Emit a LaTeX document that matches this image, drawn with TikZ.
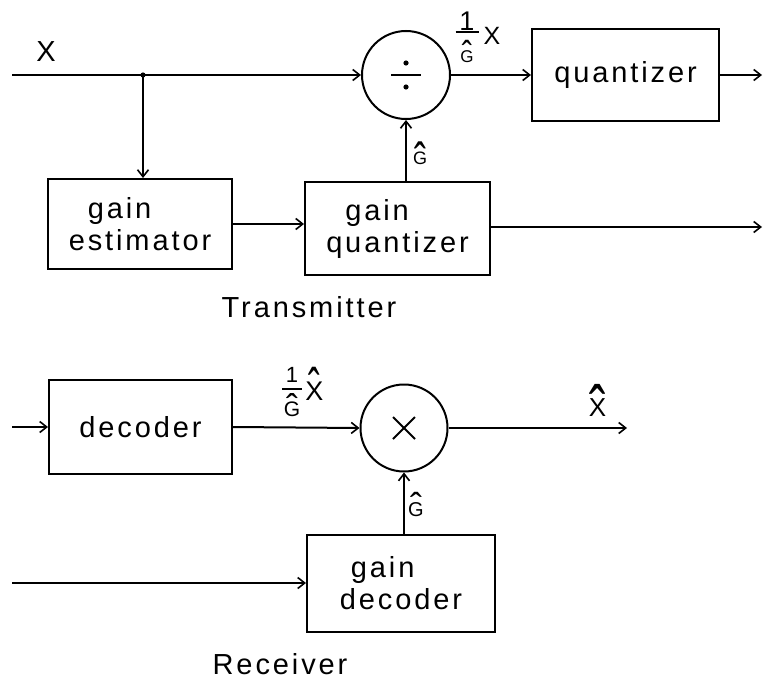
\documentclass[tikz,border=0pt]{standalone}
\usepackage{fontspec}
\usepackage{graphicx}
\setmainfont{Liberation Sans}[LetterSpace=10]
\usetikzlibrary{arrows.meta}
\newsavebox{\hatbx}
% #1 letter, #2 raise, #3 xscale, #4 yscale
\newcommand{\hatit}[4]{\sbox{\hatbx}{#1}\rlap{\hbox to \wd\hatbx{\hss\raisebox{#2}[0pt][0pt]{\scalebox{#3}[#4]{ˆ}}\hss}}\usebox{\hatbx}}
% #1 num size, #2 den size, #3 bar width, #4 kern above, #5 kern below, #6 hat raise, #7 hat xs, #8 hat ys
\newcommand{\fracG}[8]{$\vcenter{\hbox to #3{\hss\fontsize{#1}{#1}\selectfont 1\hss}\kern#4\hrule height 1.8pt\kern#5\hbox to #3{\hss\fontsize{#2}{#2}\selectfont\hatit{G}{#6}{#7}{#8}\hss}}$}
\begin{document}
\begin{tikzpicture}[x=1pt,y=-1pt,
  line width=2pt,
  arr/.style={-{Straight Barb[length=7pt,width=11pt,line width=1.6pt]}},
  blk/.style={draw, rectangle, align=left, inner sep=0pt, font=\fontsize{29}{32}\selectfont},
  opcirc/.style={draw, circle, minimum size=88pt, inner sep=0pt},
  lbl/.style={font=\fontsize{29}{32}\selectfont, inner sep=0pt},
  sym/.style={line width=2pt}
]
\useasboundingbox (0,0) rectangle (763,680);

% ---------------- Transmitter ----------------
\node[blk, minimum width=184pt, minimum height=90pt] (ge) at (140,224) {\hspace*{19pt}gain\\estimator};
\node[blk, minimum width=185pt, minimum height=93pt] (gq) at (397.5,228.5) {\hspace*{19pt}gain\\quantizer};
\node[blk, minimum width=187pt, minimum height=92pt] (qz) at (625.5,75) {quantizer};
\node[opcirc] (dv) at (406,75) {};
\draw[sym] ([xshift=-15pt]dv.center) -- ([xshift=15pt]dv.center);
\fill ([yshift=12pt]dv.center) circle (2.6pt);
\fill ([yshift=-12pt]dv.center) circle (2.6pt);

\coordinate (xin) at (12,75);
\coordinate (br) at (143,75);
\coordinate (qout) at (762,75);
\coordinate (gqout) at (762,227);

\draw[arr] (xin) -- (dv.west);
\fill (br) circle (2.6pt);
\draw[arr] (br) -- (br |- ge.north);
\draw[arr] (ge.east) -- (ge.east -| gq.west);
\draw[arr] (gq.north -| dv) -- (dv.south);
\draw[arr] (dv.east) -- (qz.west);
\draw[arr] (qz.east) -- (qout);
\draw[arr] (gq.east |- gqout) -- (gqout);

\node[lbl] (xl) at (46,52) {X};
\node[lbl] (fr1) at (467,37) {\fracG{27pt}{17pt}{23pt}{1pt}{17pt}{-5.2pt}{1.8}{2.2}};
\node[lbl, font=\fontsize{25}{28}\selectfont] (xl2) at (492,36) {X};
\node[lbl, font=\fontsize{18}{20}\selectfont] (gh1) at (420,158.5) {\hatit{G}{-14.3pt}{2.0}{2.8}};
\node[lbl] (tx) at (309,307) {Transmitter};

% ---------------- Receiver ----------------
\node[blk, minimum width=183pt, minimum height=94pt] (dec) at (140.5,427) {decoder};
\node[opcirc, minimum size=87pt] (ml) at (404,428) {};
\draw[sym] ([shift={(-11pt,-11pt)}]ml.center) -- ([shift={(11pt,11pt)}]ml.center);
\draw[sym] ([shift={(-11pt,11pt)}]ml.center) -- ([shift={(11pt,-11pt)}]ml.center);
\node[blk, minimum width=188pt, minimum height=97pt] (gd) at (401,583.5) {\hspace*{11pt}gain\\decoder};

\coordinate (din) at (12,427);
\coordinate (xout) at (627,428);
\coordinate (gin) at (12,583);

\draw[arr] (din) -- (dec.west);
\draw[arr] (dec.east) -- (ml.west);
\draw[arr] (ml.east) -- (xout);
\draw[arr] (gin) -- (gin -| gd.west);
\draw[arr] (gd.north -| ml) -- (ml.south);

\node[lbl] (fr2) at (292,392) {\fracG{22pt}{21pt}{20pt}{5pt}{12pt}{-3.7pt}{1.7}{1.7}};
\node[lbl, font=\fontsize{27}{30}\selectfont] (xh2) at (314.5,391) {\hatit{X}{-8.6pt}{1.3}{2.1}};
\node[lbl, font=\fontsize{26}{29}\selectfont] (xh3) at (597.5,407.5) {\hatit{X}{-19pt}{1.9}{2.7}};
\node[lbl, font=\fontsize{20}{22}\selectfont] (gh2) at (416,509.5) {\hatit{G}{-2.6pt}{1.8}{1.8}};
\node[lbl, anchor=base, text depth=0pt] (rx) at (280,674) {Receiver};
\end{tikzpicture}
\end{document}
